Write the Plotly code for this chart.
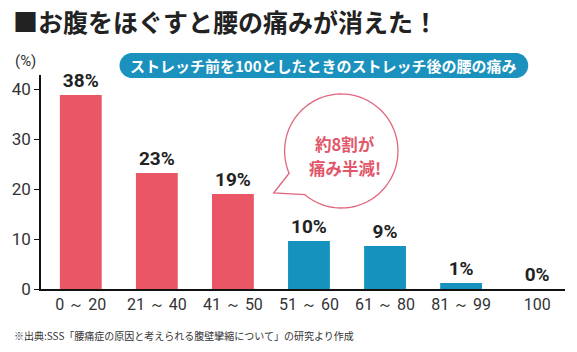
import numpy as np
import plotly.graph_objects as go

categories = ["0 ～ 20", "21 ～ 40", "41 ～ 50", "51 ～ 60", "61 ～ 80", "81 ～ 99", "100"]
values = [38.8, 23.2, 19.0, 9.6, 8.6, 1.2, 0]
labels = ["38%", "23%", "19%", "10%", "9%", "1%", "0%"]
bar_colors = ["#eb5667", "#eb5667", "#eb5667", "#1592bd", "#1592bd", "#1592bd", "#1592bd"]
y_ticks = [0, 10, 20, 30, 40]

title = "■お腹をほぐすと腰の痛みが消えた！"
banner = "ストレッチ前を100としたときのストレッチ後の腰の痛み"
bubble_lines = ["約8割が", "痛み半減!"]
note = "※出典:SSS「腰痛症の原因と考えられる腹壁攣縮について」の研究より作成"

W, H = 577, 352
L, R, T, B = 38, 565, 75, 289


def px(x):
    return (x - L) / (R - L)


def py(y):
    return (B - y) / (B - T)


def path_from(points, close=True):
    s = "M " + " L ".join(f"{px(x):.5f},{py(y):.5f}" for x, y in points)
    return s + (" Z" if close else "")


# banner stadium shape (pixel geometry)
bx0, bx1, by0, by1 = 117, 528, 53, 78
r = (by1 - by0) / 2
cy = (by0 + by1) / 2
pts = []
for a in np.linspace(90, 270, 30):
    t = np.radians(a)
    pts.append((bx0 + r + r * np.cos(t), cy - r * np.sin(t)))
for a in np.linspace(270, 450, 30):
    t = np.radians(a)
    pts.append((bx1 - r + r * np.cos(t), cy - r * np.sin(t)))
banner_path = path_from(pts)

# speech bubble
ccx, ccy, cr = 340, 151, 57
tip = (272, 193)
bpts = []
for a in np.linspace(157, 490, 120):
    t = np.radians(a)
    bpts.append((ccx + cr * np.cos(t), ccy + cr * np.sin(t)))
bpts.append(tip)
bubble_path = path_from(bpts)

fig = go.Figure()
fig.add_trace(go.Bar(
    x=categories, y=values, text=labels, textposition="outside",
    marker=dict(color=bar_colors, line=dict(width=0)),
    width=0.55, cliponaxis=False,
    textfont=dict(family="Roboto, Liberation Sans, sans-serif", size=19, color="#222222", weight="bold"),
    hoverinfo="skip",
))

annotations = [
    dict(text=title, xref="paper", yref="paper", x=px(8), y=py(21),
         xanchor="left", yanchor="middle", showarrow=False,
         font=dict(family="Noto Sans CJK JP", size=25, color="#222222", weight="bold")),
    dict(text=banner, xref="paper", yref="paper", x=px(322), y=py(66),
         xanchor="center", yanchor="middle", showarrow=False,
         font=dict(family="Noto Sans CJK JP", size=15, color="white", weight="bold")),
    dict(text="(%)", xref="paper", yref="paper", x=px(22), y=py(61),
         xanchor="center", yanchor="middle", showarrow=False,
         font=dict(family="Roboto, Liberation Sans, sans-serif", size=15, color="#333333")),
    dict(text=note, xref="paper", yref="paper", x=px(9), y=py(335),
         xanchor="left", yanchor="middle", showarrow=False,
         font=dict(family="Noto Sans CJK JP", size=10, color="#333333")),
]
for line, yy in zip(bubble_lines, [143.5, 167.5]):
    annotations.append(dict(text=line, xref="paper", yref="paper", x=px(344), y=py(yy),
                            xanchor="center", yanchor="middle", showarrow=False,
                            font=dict(family="Noto Sans CJK JP", size=16.5, color="#e2566a", weight="bold")))

fig.update_layout(
    width=W, height=H,
    margin=dict(l=L, r=W - R, t=T, b=H - B),
    paper_bgcolor="white", plot_bgcolor="white",
    showlegend=False,
    xaxis=dict(
        type="category", range=[-0.523, 6.366],
        showline=True, linecolor="#111111", linewidth=1.5,
        ticks="", showgrid=False,
        tickfont=dict(family="Roboto, Liberation Sans, sans-serif", size=16, color="#333333"),
        fixedrange=True,
    ),
    yaxis=dict(
        range=[0, 42.8], tickvals=y_ticks,
        showline=True, linecolor="#111111", linewidth=1.5,
        ticks="outside", ticklen=5, tickcolor="#111111", tickwidth=1,
        showgrid=False, zeroline=False,
        tickfont=dict(family="Roboto, Liberation Sans, sans-serif", size=17, color="#333333"),
        fixedrange=True,
    ),
    shapes=[
        dict(type="path", path=banner_path, xref="paper", yref="paper",
             fillcolor="#1b92bd", line=dict(width=0), layer="above"),
        dict(type="path", path=bubble_path, xref="paper", yref="paper",
             fillcolor="white", line=dict(color="#e0667c", width=1.3), layer="above"),
    ],
    annotations=annotations,
)

fig.write_html("out.html")
